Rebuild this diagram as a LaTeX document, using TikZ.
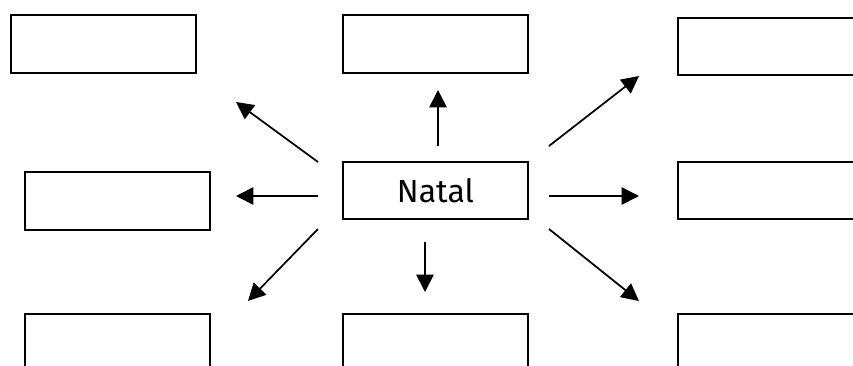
\documentclass[tikz,border=0pt]{standalone}
\usepackage{fontspec}
\setmainfont{Fira Sans}
\usetikzlibrary{arrows.meta}
\tikzstyle{box}=[draw,line width=1.5pt,minimum width=138.75pt,minimum height=43pt,inner sep=0pt,font=\fontsize{24}{28}\selectfont]
\tikzstyle{arrow}=[draw,line width=1.3pt,-{Triangle[length=13pt,width=13pt]}]

\begin{document}
\begin{tikzpicture}[x=0.75pt,y=-0.75pt]
    \path[use as bounding box,clip] (0,0) rectangle (853,365);
    % First we draw the boxes
    \node[box] (natal) at (435.5,190.5) {Natal};
    \foreach \pos/\name in {{(103.5,44)/tl}, {(435.5,44)/tm}, {(770.5,46.5)/tr}, {(117.5,201)/ml}, {(770.5,190.5)/mr}, {(117.5,343)/bl}, {(435.5,343)/bm}, {(770.5,343)/br}}
        \node[box] (\name) at \pos {};
    % Free ends of the arrows
    \foreach \sx/\sy/\tx/\ty/\name in {318/162/236/102/nw, 438/146/438/90/n, 549/146/639/76/ne, 318/196/236/196/w, 549/196/639/196/e, 318/229/248/301/sw, 425/242/425/292/s, 549/229/639/301/se}
    {
        \coordinate (\name-start) at (\sx,\sy);
        \coordinate (\name-tip) at (\tx,\ty);
    }
    % Then the arrows
    \foreach \name in {nw, n, ne, w, e, sw, s, se}
        \path[arrow] (\name-start) -- (\name-tip);
\end{tikzpicture}
\end{document}
